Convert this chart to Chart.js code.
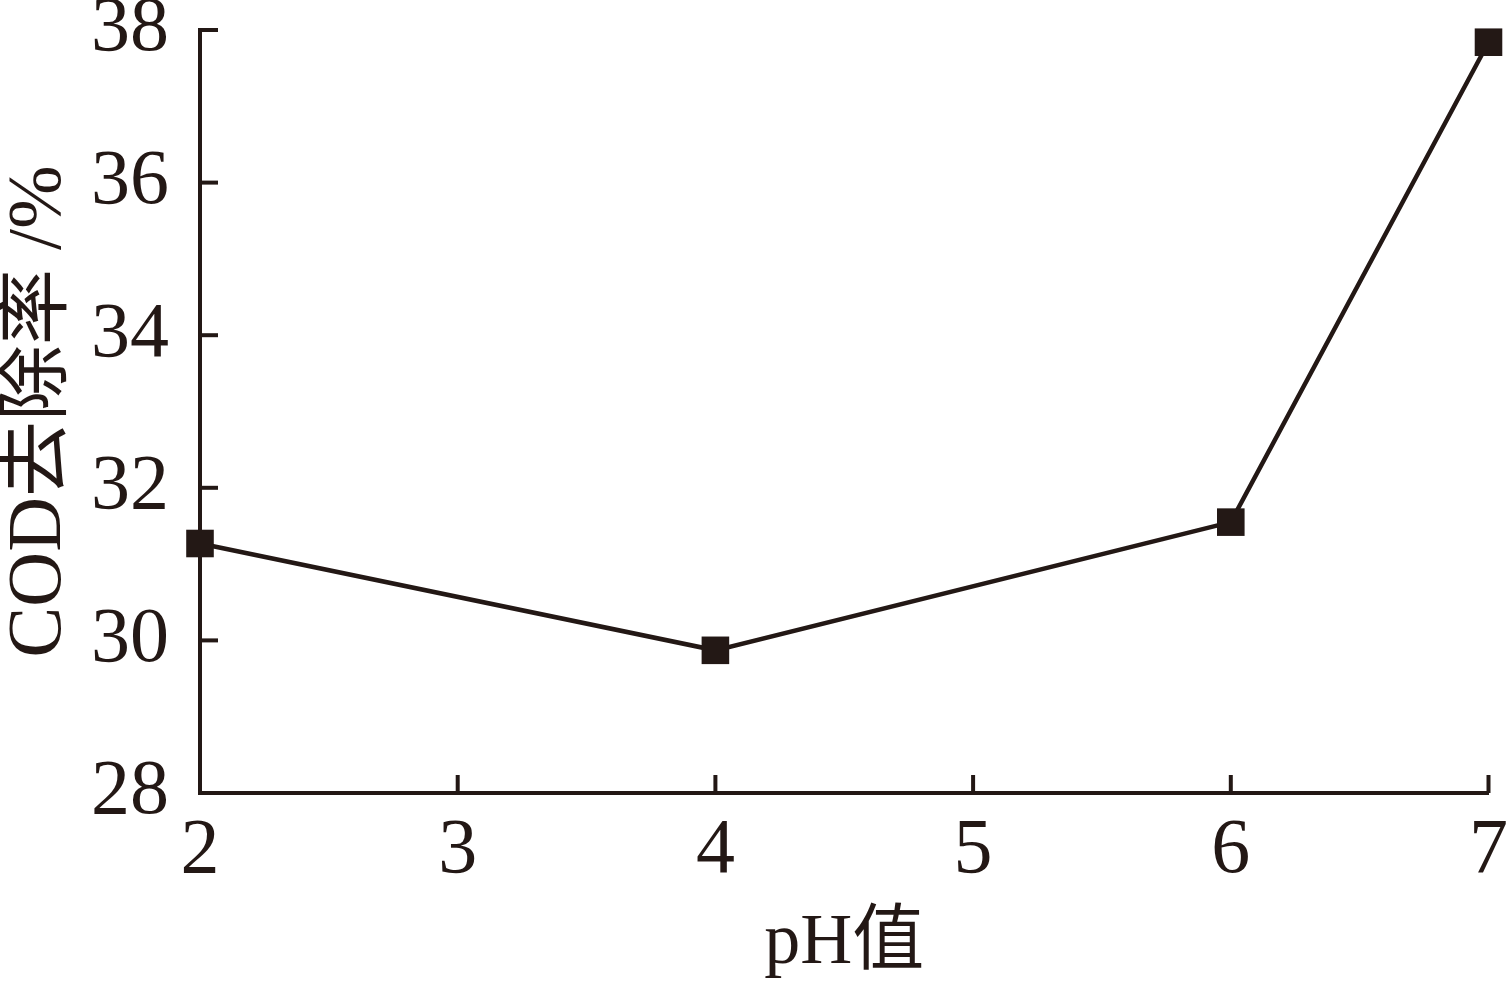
<!DOCTYPE html>
<html>
<head>
<meta charset="utf-8">
<script src="https://cdn.jsdelivr.net/npm/chart.js@4"></script>
<style>
  html, body { margin: 0; padding: 0; background: #fff; }
  #wrap { width: 1508px; height: 992px; }
</style>
</head>
<body>
<div id="wrap"><canvas id="chart" width="1508" height="992"></canvas></div>
<script>
// pH values and COD removal (%)
const phValues = [2, 4, 6, 7];
const codRemoval = [31.27, 29.87, 31.55, 37.84];
const xTicks = [2, 3, 4, 5, 6, 7];
const yTicks = [28, 30, 32, 34, 36, 38];

const ink = '#231815';
const serif = "'Liberation Serif', 'Times New Roman', 'Noto Sans CJK SC', serif";

// inward tick marks, drawn from the scales' own pixel mapping
const innerTicks = {
  id: 'innerTicks',
  afterDraw(chart) {
    const { ctx, scales: { x, y } } = chart;
    ctx.save();
    ctx.strokeStyle = ink;
    ctx.lineWidth = 4;
    ctx.lineCap = 'butt';
    xTicks.forEach(v => {
      const px = x.getPixelForValue(v);
      ctx.beginPath();
      ctx.moveTo(px, y.bottom);
      ctx.lineTo(px, y.bottom - 18);
      ctx.stroke();
    });
    yTicks.forEach(v => {
      const py = y.getPixelForValue(v);
      ctx.beginPath();
      ctx.moveTo(x.left, py);
      ctx.lineTo(x.left + 18, py);
      ctx.stroke();
    });
    ctx.restore();
  }
};

new Chart(document.getElementById('chart'), {
  type: 'line',
  data: {
    datasets: [{
      data: phValues.map((v, i) => ({ x: v, y: codRemoval[i] })),
      borderColor: ink,
      backgroundColor: ink,
      borderWidth: 4.5,
      pointStyle: 'rect',
      pointRadius: 19.5,
      pointBorderWidth: 0,
      pointBackgroundColor: ink,
      tension: 0,
      clip: false
    }]
  },
  options: {
    responsive: false,
    animation: false,
    layout: { padding: { top: 30, right: 18, left: 0, bottom: 0 } },
    plugins: { legend: { display: false }, tooltip: { enabled: false } },
    scales: {
      x: {
        type: 'linear',
        min: 2,
        max: 7,
        afterBuildTicks(scale) { scale.ticks = xTicks.map(v => ({ value: v })); },
        afterFit(scale) {
          scale.height = 199;
          scale.paddingLeft = 0;
          scale.paddingRight = 0;
        },
        grid: { drawOnChartArea: false, drawTicks: false },
        border: { color: ink, width: 4 },
        ticks: {
          color: ink,
          padding: 20,
          maxRotation: 0,
          font: { family: serif, size: 78, lineHeight: 1 }
        },
        title: {
          display: true,
          text: 'pH值',
          color: ink,
          padding: { top: 0, bottom: 5 },
          font: { family: serif, size: 72, lineHeight: 1.2 }
        }
      },
      y: {
        min: 28,
        max: 38,
        afterBuildTicks(scale) { scale.ticks = yTicks.map(v => ({ value: v })); },
        afterFit(scale) {
          scale.width = 200;
          scale.paddingTop = 0;
          scale.paddingBottom = 0;
        },
        grid: { drawOnChartArea: false, drawTicks: false },
        border: { color: ink, width: 4 },
        ticks: {
          color: ink,
          padding: 31,
          font: { family: serif, size: 78, lineHeight: 1 }
        },
        title: {
          display: true,
          text: 'COD去除率 /%',
          color: ink,
          padding: { top: 0, bottom: 0 },
          font: { family: serif, size: 76, lineHeight: 1.05 }
        }
      }
    }
  },
  plugins: [innerTicks]
});
</script>
</body>
</html>
